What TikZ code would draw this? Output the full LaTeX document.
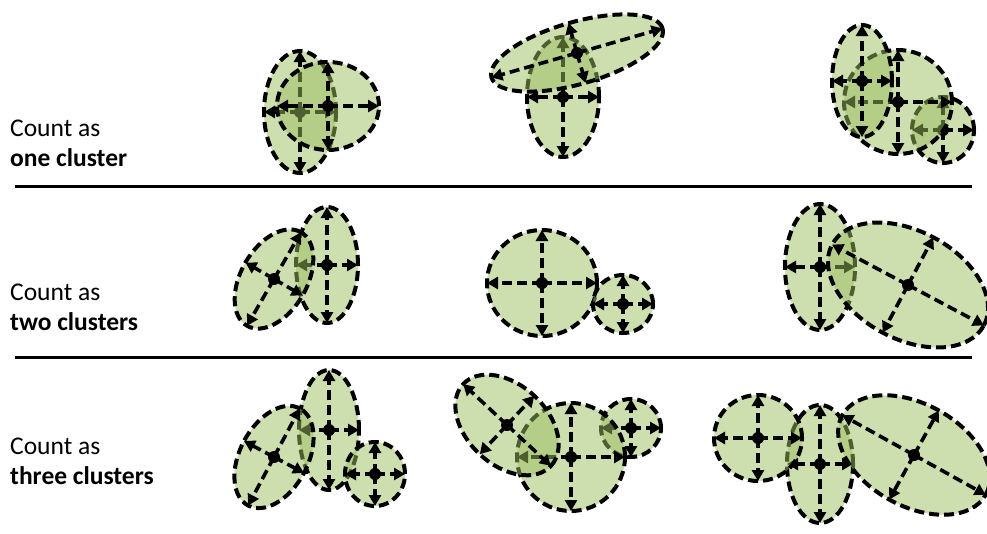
\documentclass[tikz,border=0pt]{standalone}
\usepackage{fontspec}
\setmainfont{Carlito}
\usetikzlibrary{shapes.geometric,arrows.meta}

\definecolor{leaf}{RGB}{155,189,95}

% four half-axes and the centre dot of one cluster
\newcommand\crosshair[1]{%
  \foreach \side in {north,south,east,west}
    \draw[axis] (#1.center) -- (#1.\side);
  \fill (#1.center) circle (6pt);}

\begin{document}
\begin{tikzpicture}[
        x=1pt, y=-1pt,
        blob/.style={ellipse, draw, fill=leaf, fill opacity=0.5, line width=4pt,
                     dash pattern=on 10pt off 5pt, inner sep=0pt, outer sep=0pt},
        axis/.style={-{Triangle[length=11pt,width=12pt]}, line width=3.6pt, dash pattern=on 10pt off 5pt},
        rule/.style={line width=3pt},
        caption/.style={anchor=base west, inner sep=0pt, font=\fontsize{25.5pt}{30pt}\selectfont}
    ]
        \useasboundingbox (0,0) rectangle (987,533);

        % row labels
        \node[caption] (lbl1a) at (10,136) {Count as};
        \node[caption] (lbl1b) at (10,166) {\textbf{one cluster}};
        \node[caption] (lbl2a) at (10,300) {Count as};
        \node[caption] (lbl2b) at (10,330) {\textbf{two clusters}};
        \node[caption] (lbl3a) at (10,454) {Count as};
        \node[caption] (lbl3b) at (10,484) {\textbf{three clusters}};

        \draw[rule] (15,186) -- (972,186);
        \draw[rule] (15,357) -- (972,357);

        % one cluster
        \node[blob, minimum width=72, minimum height=122] (a1) at (300,112) {};
        \crosshair{a1}
        \node[blob, minimum width=102, minimum height=88] (a2) at (328,106) {};
        \crosshair{a2}

        \node[blob, minimum width=72, minimum height=120] (b1) at (563,97) {};
        \crosshair{b1}
        \node[blob, minimum width=178, minimum height=62, rotate=16] (b2) at (577,53) {};
        \crosshair{b2}

        \node[blob, minimum width=62, minimum height=66] (c3) at (943,130) {};
        \crosshair{c3}
        \node[blob, minimum width=108, minimum height=104] (c2) at (898,102) {};
        \crosshair{c2}
        \node[blob, minimum width=60, minimum height=112] (c1) at (862,81) {};
        \crosshair{c1}

        % two clusters
        \node[blob, minimum width=62, minimum height=116] (d2) at (327,265) {};
        \crosshair{d2}
        \node[blob, minimum width=108, minimum height=66, rotate=60] (d1) at (274,279) {};
        \crosshair{d1}

        \node[blob, minimum width=110, minimum height=106] (e1) at (542,283) {};
        \crosshair{e1}
        \node[blob, minimum width=60, minimum height=58] (e2) at (623,304) {};
        \crosshair{e2}

        \node[blob, minimum width=70, minimum height=126] (f1) at (820,267) {};
        \crosshair{f1}
        \node[blob, minimum width=172, minimum height=108, rotate=-28] (f2) at (908,285) {};
        \crosshair{f2}

        % three clusters
        \node[blob, minimum width=60, minimum height=120] (h2) at (329,430) {};
        \crosshair{h2}
        \node[blob, minimum width=110, minimum height=68, rotate=62] (h1) at (274,457) {};
        \crosshair{h1}
        \node[blob, minimum width=60, minimum height=64] (h3) at (375,474) {};
        \crosshair{h3}

        \node[blob, minimum width=60, minimum height=58] (i3) at (631,428) {};
        \crosshair{i3}
        \node[blob, minimum width=108, minimum height=108] (i2) at (571,457) {};
        \crosshair{i2}
        \node[blob, minimum width=120, minimum height=80, rotate=-43] (i1) at (507,425) {};
        \crosshair{i1}

        \node[blob, minimum width=66, minimum height=118] (j2) at (820,464) {};
        \crosshair{j2}
        \node[blob, minimum width=88, minimum height=86] (j1) at (758,438) {};
        \crosshair{j1}
        \node[blob, minimum width=164, minimum height=102, rotate=-29] (j3) at (914,455) {};
        \crosshair{j3}
    \end{tikzpicture}
\end{document}
